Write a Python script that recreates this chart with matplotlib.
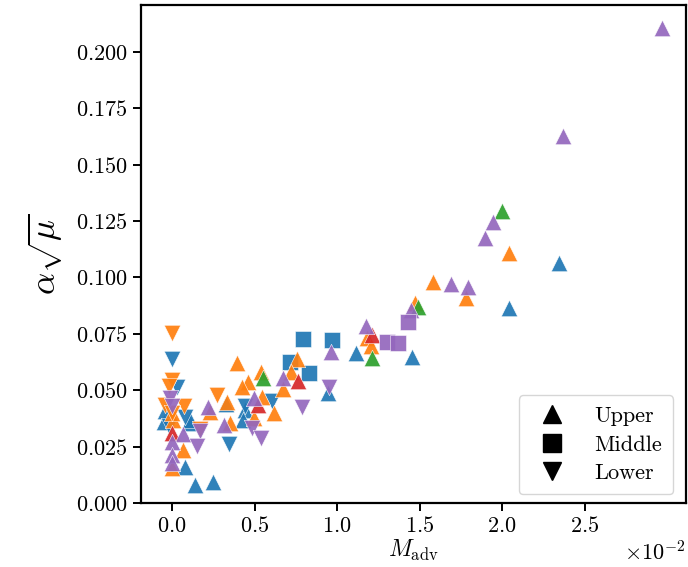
import numpy as np
import matplotlib
matplotlib.use("Agg")
import matplotlib.pyplot as plt
from matplotlib.lines import Line2D

plt.rcParams['font.family'] = 'serif'
plt.rcParams['font.serif'] = ['cmr10']
plt.rcParams['mathtext.fontset'] = 'cm'
plt.rcParams['axes.unicode_minus'] = False
plt.rcParams['axes.formatter.use_mathtext'] = True

# x values in units of 1e-2
series = {
    ('C0', '^'): ([0.947, 1.115, 1.453, 2.044, 2.347, 0.139, 0.247, 0.079, 0.109, 0.442, 0.43, -0.05, 0.109, -0.04, 0.33],
                  [0.0489, 0.0667, 0.0649, 0.0863, 0.1063, 0.008, 0.0095, 0.0161, 0.0353, 0.0412, 0.037, 0.036, 0.0368, 0.041, 0.044]),
    ('C0', 's'): ([0.796, 0.968, 0.832, 0.715],
                  [0.0726, 0.0723, 0.0578, 0.0627]),
    ('C0', 'v'): ([0.0, 0.03, 0.345, 0.604, 0.079, -0.02, 0.44],
                  [0.0637, 0.0513, 0.026, 0.0454, 0.0383, 0.034, 0.043]),
    ('C1', '^'): ([1.58, 1.78, 2.044, 1.473, 1.18, 1.206, 0.756, 0.392, 0.539, 0.462, 0.422, 0.675, 0.543, 0.62, 0.331, 0.23, 0.351, 0.008, 0.069, 0.0, 0.499, 0.0, 0.72],
                  [0.0981, 0.0910, 0.1107, 0.0886, 0.0733, 0.0698, 0.0637, 0.0619, 0.0582, 0.0538, 0.0513, 0.0504, 0.0471, 0.0398, 0.0449, 0.0405, 0.0353, 0.0368, 0.0235, 0.0154, 0.0376, 0.040, 0.058]),
    ('C1', 'v'): ([0.0, 0.0, -0.02, -0.04, 0.07, 0.275, 0.0, 0.17],
                  [0.0755, 0.0545, 0.0519, 0.0435, 0.043, 0.0479, 0.040, 0.033]),
    ('C2', '^'): ([2.002, 1.493, 1.21, 0.553],
                  [0.1295, 0.0871, 0.0642, 0.0553]),
    ('C3', '^'): ([1.21, 0.766, 0.523, 0.0],
                  [0.0745, 0.0541, 0.0435, 0.031]),
    ('C4', '^'): ([2.97, 2.368, 1.947, 1.897, 1.689, 1.796, 1.446, 1.176, 0.964, 0.675, 0.499, 0.22, 0.315, 0.069, 0.0, 0.0, 0.0],
                  [0.2105, 0.1627, 0.1245, 0.1177, 0.0971, 0.0957, 0.0856, 0.0785, 0.0668, 0.0556, 0.0467, 0.0424, 0.0346, 0.0305, 0.0269, 0.0213, 0.0176]),
    ('C4', 's'): ([1.432, 1.301, 1.372],
                  [0.0804, 0.0715, 0.0711]),
    ('C4', 'v'): ([0.953, 0.786, -0.015, 0.483, 0.537, 0.17, 0.15, 0.0],
                  [0.0516, 0.0427, 0.0464, 0.0331, 0.0287, 0.0319, 0.0254, 0.043]),
}

legend_labels = ['Upper', 'Middle', 'Lower']
legend_markers = ['^', 's', 'v']

fig = plt.figure(figsize=(6.88, 5.67), dpi=100)
ax = fig.add_axes([141/688, 1-503/567, (686-141)/688, (503-5)/567])

for (c, m), (xs, ys) in series.items():
    ax.scatter(np.array(xs) * 1e-2, ys, marker=m, color=c, s=140,
               edgecolors='white', linewidths=0.4, alpha=0.92)

ax.set_xlim(-0.188e-2, 3.115e-2)
ax.set_ylim(0, 0.2208)
ax.set_yticks(np.arange(0, 0.2001, 0.025))
ax.set_xticks(np.arange(0, 0.0251, 0.005))
ax.ticklabel_format(axis='x', style='sci', scilimits=(0, 0), useMathText=True)
ax.tick_params(labelsize=16, length=6, width=1.4)
for s in ax.spines.values():
    s.set_linewidth(1.6)
ax.xaxis.get_offset_text().set_fontsize(16)

ax.set_xlabel(r'$M_{\mathrm{adv}}$', fontsize=17, labelpad=1)
ax.set_ylabel(r'$\alpha\sqrt{\mu}$', fontsize=25, labelpad=8)

handles = [Line2D([], [], marker=m, color='black', linestyle='none', markersize=13)
           for m in legend_markers]
ax.legend(handles, legend_labels, loc='lower right', fontsize=16,
          handletextpad=0.9, borderpad=0.5, labelspacing=0.4,
          borderaxespad=0.4, bbox_to_anchor=(0.993, 0.0))

fig.savefig('out.png', dpi=100)
